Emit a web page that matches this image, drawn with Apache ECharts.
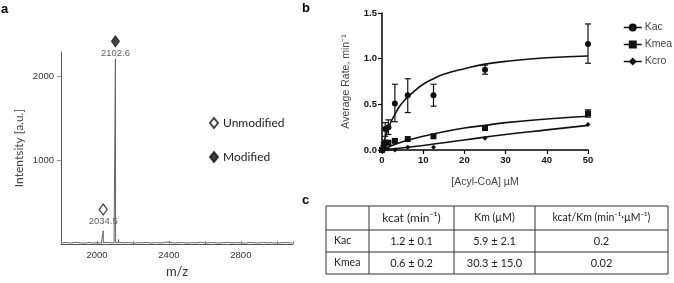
<!DOCTYPE html>
<html>
<head>
<meta charset="utf-8">
<script src="https://cdn.jsdelivr.net/npm/echarts@6/dist/echarts.min.js"></script>
<style>
  html, body { margin: 0; padding: 0; background: #fff; }
  #chart { width: 674px; height: 283px; }
</style>
</head>
<body>
<div id="chart"></div>
<script>
// panel a: mass spectrum (m/z, intensity), baseline read by eye
const baseMz = [1805, 1830, 1855, 1880, 1905, 1930, 1955, 1980, 2005, 2025, 2050, 2075, 2095,
  2130, 2150, 2175, 2200, 2225, 2250, 2275, 2300, 2325, 2350, 2375, 2400, 2425, 2450, 2475,
  2500, 2525, 2550, 2575, 2600, 2625, 2650, 2675, 2700, 2725, 2750, 2775, 2800, 2825, 2850,
  2875, 2900, 2925, 2950, 2975, 3000, 3025, 3050, 3075, 3088];
const baseInt = [14, 20, 12, 22, 15, 11, 19, 13, 17, 12, 21, 16, 14,
  24, 16, 19, 12, 17, 15, 21, 12, 18, 14, 20, 26, 13, 16, 19,
  12, 17, 15, 22, 13, 16, 19, 11, 17, 21, 14, 18, 15, 12, 20,
  16, 13, 19, 15, 17, 12, 16, 19, 14, 15];
const peakMz = [2033.5, 2034.5, 2035.5, 2101.6, 2102.6, 2103.6, 2118, 2120, 2122];
const peakInt = [15, 158, 15, 15, 2208, 15, 18, 55, 18];
const markMz = [2034.5, 2102.6];
const markY = [412, 2417];
const markNames = ['Unmodified', 'Modified'];

// panel b: kinetics
const concKac = [0, 0.39, 0.78, 1.56, 3.125, 6.25, 12.5, 25, 50];
const rateKac = [0, 0.05, 0.23, 0.25, 0.51, 0.60, 0.60, 0.88, 1.16];
const lowKac = [0, 0.02, 0.15, 0.17, 0.31, 0.41, 0.48, 0.83, 0.95];
const highKac = [0, 0.08, 0.30, 0.33, 0.72, 0.78, 0.72, 0.93, 1.38];
const concKmea = [0, 0.39, 0.78, 1.56, 3.125, 6.25, 12.5, 25, 50];
const rateKmea = [0, 0.02, 0.08, 0.08, 0.10, 0.12, 0.15, 0.24, 0.40];
const lowKmea = [0, 0.02, 0.08, 0.08, 0.10, 0.12, 0.14, 0.23, 0.36];
const highKmea = [0, 0.02, 0.08, 0.08, 0.10, 0.12, 0.16, 0.25, 0.44];
const concKcro = [0, 0.78, 1.56, 3.125, 6.25, 12.5, 25, 50];
const rateKcro = [0, 0.01, 0.01, 0.0, 0.03, 0.03, 0.13, 0.28];

// fitted curves
const fitKacX = [0, 0.5, 1, 2, 3, 4, 5, 6, 8, 10, 12.5, 15, 20, 25, 30, 40, 50];
const fitKacY = [0, 0.09, 0.17, 0.29, 0.38, 0.46, 0.52, 0.57, 0.65, 0.72, 0.78, 0.83, 0.89, 0.94, 0.97, 1.01, 1.03];
const fitKmeaX = [0, 2, 5, 10, 15, 20, 25, 30, 40, 50];
const fitKmeaY = [0, 0.04, 0.09, 0.15, 0.20, 0.24, 0.27, 0.30, 0.34, 0.37];
const fitKcroX = [0, 10, 20, 30, 40, 50];
const fitKcroY = [0, 0.05, 0.11, 0.17, 0.22, 0.27];

// panel c: table
const tableHead = ['', 'kcat (min⁻¹)', 'Km (µM)', 'kcat/Km (min⁻¹·µM⁻¹)'];
const tableRows = [
  ['Kac', '1.2 ± 0.1', '5.9 ± 2.1', '0.2'],
  ['Kmea', '0.6 ± 0.2', '30.3 ± 15.0', '0.02'],
];

const zip = (xs, ys) => xs.map((x, i) => [x, ys[i]]);

const spectrum = zip(baseMz, baseInt).concat(zip(peakMz, peakInt)).sort((p, q) => p[0] - q[0]);

function errorBars(xs, lo, hi) {
  return xs.map((x, i) => [x, lo[i], hi[i]]).filter((d) => d[2] - d[1] > 0.02);
}

function renderErr(params, api) {
  const x = api.value(0);
  const p1 = api.coord([x, api.value(1)]);
  const p2 = api.coord([x, api.value(2)]);
  const w = 3;
  const st = { stroke: '#111', lineWidth: 1.2 };
  return {
    type: 'group',
    children: [
      { type: 'line', shape: { x1: p1[0], y1: p1[1], x2: p2[0], y2: p2[1] }, style: st },
      { type: 'line', shape: { x1: p1[0] - w, y1: p1[1], x2: p1[0] + w, y2: p1[1] }, style: st },
      { type: 'line', shape: { x1: p2[0] - w, y1: p2[1], x2: p2[0] + w, y2: p2[1] }, style: st },
    ],
  };
}

// table layout
const colX = [326, 369, 454, 535, 668];
const rowY = [206, 230, 252, 274];
const headSize = [0, 12, 10.5, 10.5];
const tableGraphics = [];
colX.forEach((x) => {
  tableGraphics.push({ type: 'line', shape: { x1: x, y1: rowY[0], x2: x, y2: rowY[rowY.length - 1] }, style: { stroke: '#333', lineWidth: 1 } });
});
rowY.forEach((y) => {
  tableGraphics.push({ type: 'line', shape: { x1: colX[0], y1: y, x2: colX[colX.length - 1], y2: y }, style: { stroke: '#333', lineWidth: 1 } });
});
tableHead.forEach((t, c) => {
  if (!t) return;
  tableGraphics.push({
    type: 'text', x: (colX[c] + colX[c + 1]) / 2, y: (rowY[0] + rowY[1]) / 2,
    style: { text: t, fontFamily: 'Lato', fontSize: headSize[c], fill: '#222', align: 'center', verticalAlign: 'middle' },
  });
});
tableRows.forEach((row, r) => {
  row.forEach((t, c) => {
    const cy = (rowY[r + 1] + rowY[r + 2]) / 2;
    tableGraphics.push({
      type: 'text', x: c === 0 ? colX[0] + 8 : (colX[c] + colX[c + 1]) / 2, y: cy,
      style: { text: t, fontFamily: 'Lato', fontSize: c === 0 ? 10.5 : 11, fill: '#222', align: c === 0 ? 'left' : 'center', verticalAlign: 'middle' },
    });
  });
});

const panelLabel = (t, x, y) => ({
  type: 'text', x, y, style: { text: t, fontFamily: 'Liberation Sans', fontWeight: 'bold', fontSize: 13, fill: '#000' },
});

const chart = echarts.init(document.getElementById('chart'), null, { renderer: 'canvas' });

chart.setOption({
  animation: false,
  backgroundColor: '#fff',
  grid: [
    { left: 61, top: 52, right: 381, bottom: 33 },
    { left: 382, top: 13, right: 86, bottom: 133 },
  ],
  legend: [
    {
      data: markNames, orient: 'vertical', left: 204, top: 112, itemGap: 22,
      itemWidth: 8, itemHeight: 10,
      textStyle: { fontFamily: 'Lato', fontSize: 12, color: '#222' },
    },
    {
      data: ['Kac', 'Kmea', 'Kcro'], orient: 'vertical', left: 618, top: 17, itemGap: 6,
      itemWidth: 18, itemHeight: 10,
      lineStyle: { color: '#111', width: 1.5, opacity: 1 },
      textStyle: { fontFamily: 'Liberation Sans', fontSize: 10.5, color: '#444', padding: [0, 0, 0, -2] },
    },
  ],
  xAxis: [
    {
      gridIndex: 0, type: 'value', min: 1800, max: 3090, interval: 200,
      name: 'm/z', nameLocation: 'middle', nameGap: 16,
      nameTextStyle: { fontFamily: 'Lato', fontSize: 13, color: '#333' },
      axisLine: { lineStyle: { color: '#555', width: 1 } },
      axisTick: { show: true, inside: true, length: 3, lineStyle: { color: '#888' } },
      axisLabel: {
        fontFamily: 'Liberation Sans', fontSize: 9.5, color: '#333', margin: 6,
        formatter: (v) => (v % 400 === 0 ? String(v) : ''),
      },
      splitLine: { show: false },
    },
    {
      gridIndex: 1, type: 'value', min: 0, max: 50, interval: 10,
      name: '[Acyl-CoA] µM', nameLocation: 'middle', nameGap: 27,
      nameTextStyle: { fontFamily: 'Liberation Sans', fontSize: 10.5, color: '#444' },
      axisLine: { lineStyle: { color: '#000', width: 1.5 } },
      axisTick: { show: true, length: 4, lineStyle: { color: '#000', width: 1.2 } },
      axisLabel: { fontFamily: 'Liberation Sans', fontWeight: 'bold', fontSize: 9.5, color: '#111', margin: 5 },
      splitLine: { show: false },
    },
  ],
  yAxis: [
    {
      gridIndex: 0, type: 'value', min: 0, max: 2290, interval: 1000,
      name: 'Intentsity [a.u.]', nameLocation: 'middle', nameGap: 36,
      nameTextStyle: { fontFamily: 'Lato', fontSize: 12, color: '#444' },
      axisLine: { show: true, lineStyle: { color: '#555', width: 1 } },
      axisTick: { show: true, length: 4, lineStyle: { color: '#999' } },
      axisLabel: {
        fontFamily: 'Liberation Sans', fontSize: 9.5, color: '#333', margin: 7,
        showMinLabel: false, showMaxLabel: false, formatter: (v) => String(v),
      },
      splitLine: { show: false },
    },
    {
      gridIndex: 1, type: 'value', min: 0, max: 1.5, interval: 0.5,
      name: 'Average Rate, min⁻¹', nameLocation: 'middle', nameGap: 30,
      nameTextStyle: { fontFamily: 'Liberation Sans', fontSize: 10.5, color: '#444' },
      axisLine: { show: true, lineStyle: { color: '#000', width: 1.5 } },
      axisTick: { show: true, length: 4, lineStyle: { color: '#000', width: 1.2 } },
      axisLabel: { fontFamily: 'Liberation Sans', fontWeight: 'bold', fontSize: 9.5, color: '#111', margin: 5, formatter: (v) => v.toFixed(1) },
      splitLine: { show: false },
    },
  ],
  series: [
    {
      type: 'line', xAxisIndex: 0, yAxisIndex: 0, data: spectrum, showSymbol: false,
      lineStyle: { color: '#666', width: 1 }, silent: true,
    },
    {
      name: 'Unmodified', type: 'scatter', xAxisIndex: 0, yAxisIndex: 0, clip: false,
      data: [[markMz[0], markY[0]]], symbol: 'diamond', symbolSize: [8, 11],
      itemStyle: { color: '#fff', borderColor: '#111', borderWidth: 1.3 },
      label: { show: true, position: 'bottom', distance: 1, formatter: String(markMz[0]), fontFamily: 'Liberation Sans', fontSize: 9.5, color: '#333' },
    },
    {
      name: 'Modified', type: 'scatter', xAxisIndex: 0, yAxisIndex: 0, clip: false,
      data: [[markMz[1], markY[1]]], symbol: 'diamond', symbolSize: [8, 11],
      itemStyle: { color: '#111', borderColor: '#111', borderWidth: 1 },
      label: { show: true, position: 'bottom', distance: 1, formatter: String(markMz[1]), fontFamily: 'Liberation Sans', fontSize: 9.5, color: '#333', backgroundColor: '#fff' },
    },
    // panel b fits
    { type: 'line', xAxisIndex: 1, yAxisIndex: 1, data: zip(fitKacX, fitKacY), smooth: true, showSymbol: false, lineStyle: { color: '#111', width: 1.6 }, silent: true },
    { type: 'line', xAxisIndex: 1, yAxisIndex: 1, data: zip(fitKmeaX, fitKmeaY), smooth: true, showSymbol: false, lineStyle: { color: '#111', width: 1.6 }, silent: true },
    { type: 'line', xAxisIndex: 1, yAxisIndex: 1, data: zip(fitKcroX, fitKcroY), smooth: true, showSymbol: false, lineStyle: { color: '#111', width: 1.6 }, silent: true },
    // error bars
    { type: 'custom', xAxisIndex: 1, yAxisIndex: 1, data: errorBars(concKac, lowKac, highKac), renderItem: renderErr, silent: true },
    { type: 'custom', xAxisIndex: 1, yAxisIndex: 1, data: errorBars(concKmea, lowKmea, highKmea), renderItem: renderErr, silent: true },
    // data points
    {
      name: 'Kac', type: 'line', xAxisIndex: 1, yAxisIndex: 1, data: zip(concKac, rateKac),
      symbol: 'circle', symbolSize: 6, itemStyle: { color: '#111' }, lineStyle: { width: 0, opacity: 0 }, clip: false,
    },
    {
      name: 'Kmea', type: 'line', xAxisIndex: 1, yAxisIndex: 1, data: zip(concKmea, rateKmea),
      symbol: 'rect', symbolSize: 6, itemStyle: { color: '#111' }, lineStyle: { width: 0, opacity: 0 }, clip: false,
    },
    {
      name: 'Kcro', type: 'line', xAxisIndex: 1, yAxisIndex: 1, data: zip(concKcro, rateKcro),
      symbol: 'diamond', symbolSize: 5, itemStyle: { color: '#111' }, lineStyle: { width: 0, opacity: 0 }, clip: false,
    },
  ],
  graphic: [
    panelLabel('a', 1, 3),
    panelLabel('b', 302, 2),
    panelLabel('c', 302, 194),
  ].concat(tableGraphics),
});
</script>
</body>
</html>
